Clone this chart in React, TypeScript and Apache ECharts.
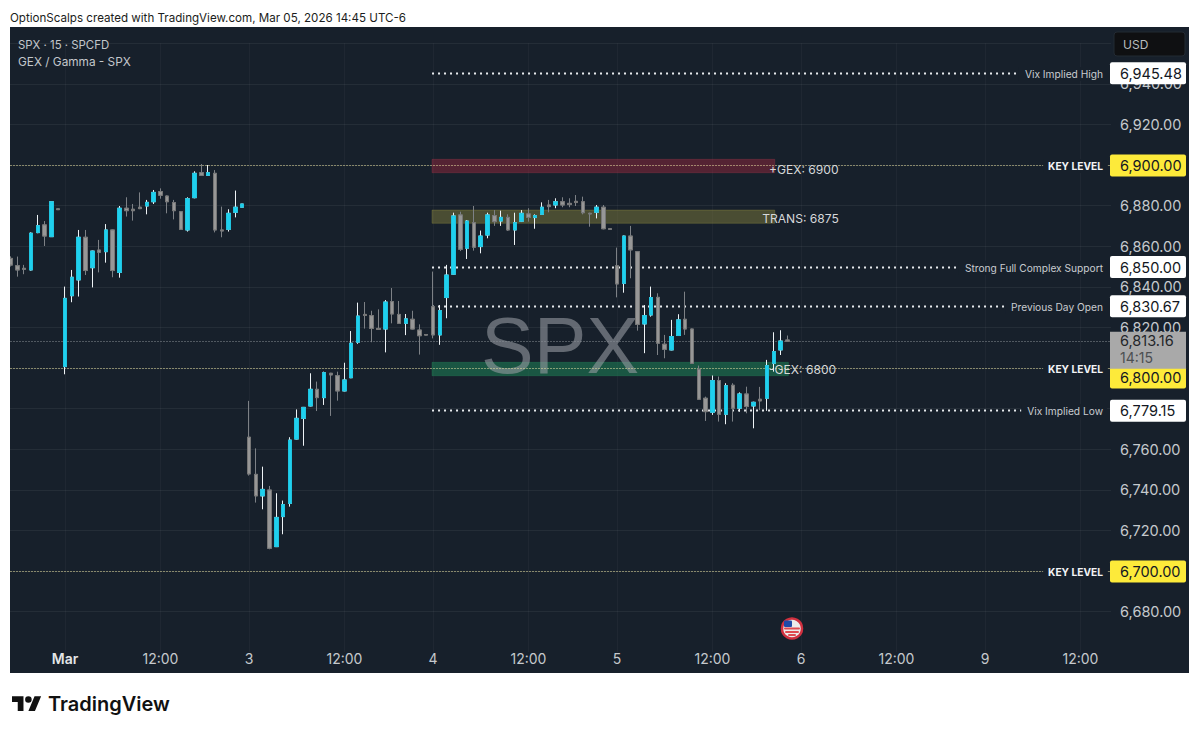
import React, { useEffect, useRef } from "react";
import * as echarts from "echarts";

// [open, close, low, high]
const priorSession: number[][] = [
  [6854, 6850.7, 6850, 6855], [6850.4, 6848.3, 6845, 6854.9], [6849.1, 6848.6, 6846.2, 6850.8], [6848.3, 6866.4, 6848, 6866.8],
  [6866.7, 6870.1, 6866.4, 6875.4], [6870.5, 6865, 6860.1, 6872.4], [6864.7, 6881.9, 6864.7, 6881.9], [6878.4, 6878, 6877.9, 6878.5],
];
const mar2: number[][] = [
  [6800.7, 6834.3, 6796.9, 6840.1], [6835.6, 6844.7, 6832.4, 6848.3], [6843.4, 6864.4, 6835.2, 6868], [6864.4, 6848, 6845.8, 6868],
  [6849.4, 6857.6, 6839.7, 6857.8], [6858.1, 6857, 6847.1, 6863.1], [6857.3, 6868, 6851.9, 6870.9], [6868, 6848, 6844.7, 6868.2],
  [6847.1, 6878.7, 6844.5, 6879.8], [6878.7, 6877.5, 6874.6, 6884.1], [6878.2, 6877.5, 6872.6, 6880.8], [6879.2, 6878.5, 6878.3, 6886.5],
  [6879.8, 6881.6, 6875.7, 6882.8], [6881.9, 6886.5, 6880.8, 6887.7], [6886.9, 6885.1, 6883.4, 6888.5], [6884.7, 6881.9, 6876.2, 6885],
  [6881.5, 6877.5, 6873.2, 6882.8], [6877, 6868.3, 6868, 6877.3], [6868, 6883.4, 6867.2, 6884.1], [6883.9, 6895.9, 6883.6, 6896.9],
  [6896.2, 6894.9, 6894.6, 6900.5], [6894.9, 6896.2, 6894.8, 6900], [6895.9, 6868, 6866.8, 6897.5], [6868, 6867.5, 6864.4, 6879.5],
  [6868.3, 6876.2, 6867.2, 6878.2], [6876.7, 6879.2, 6874.2, 6887.4], [6879.2, 6880.8, 6879.2, 6880.8],
];
const mar3: number[][] = [
  [6765.9, 6747.8, 6747, 6783.8], [6747.6, 6737, 6733.7, 6760.4], [6737, 6740.2, 6730.4, 6751.4], [6739.9, 6711.2, 6710.7, 6741.9],
  [6712, 6726.4, 6711.8, 6738.3], [6726.8, 6732.7, 6718.1, 6734.7], [6733.3, 6764.5, 6731.7, 6765.9], [6765, 6775.2, 6764.8, 6779.6],
  [6775.2, 6780.6, 6761.7, 6780.8], [6781.3, 6789.5, 6781.1, 6797.4], [6789.5, 6785.4, 6778.8, 6793.3], [6785.4, 6797.7, 6781.8, 6798.2],
  [6797.4, 6796.6, 6776.4, 6797.6], [6796.2, 6788.7, 6783.9, 6798.2], [6788.7, 6794.1, 6788.5, 6802.6], [6795.2, 6812.2, 6795, 6818.2],
  [6812.7, 6825.6, 6811.9, 6832.2], [6826.4, 6825.9, 6819.4, 6832.5], [6825.8, 6819.5, 6812.7, 6828.2], [6819.5, 6819, 6818.9, 6828.9],
  [6819.2, 6832.5, 6807.7, 6833.5], [6832.7, 6826.6, 6822, 6839.4], [6826.4, 6822, 6821.8, 6833], [6822, 6824.2, 6816.2, 6826.6],
  [6824, 6819.2, 6819, 6828.2], [6818.7, 6815.9, 6806.6, 6821.5], [6816.5, 6816.2, 6816.1, 6816.6],
];
const mar4: number[][] = [
  [6830.2, 6816.3, 6814.6, 6847.5], [6816.3, 6828.3, 6811.4, 6831], [6834.7, 6845.8, 6824.5, 6850.8], [6846.2, 6874.9, 6846, 6876.5],
  [6875.4, 6858.5, 6857.6, 6877], [6859, 6872.4, 6853.7, 6872.9], [6871.6, 6859.5, 6857.8, 6879.8], [6859.8, 6865, 6856.5, 6867.7],
  [6865.5, 6875.4, 6863.9, 6876.5], [6875.1, 6872.1, 6870, 6877.8], [6872.4, 6874.2, 6870, 6877.5], [6874.2, 6868, 6867.5, 6875.7],
  [6868, 6871.6, 6860.6, 6876.5], [6872.3, 6876.2, 6871.9, 6877.8], [6875.9, 6874.2, 6872.1, 6878.7], [6874.1, 6875.1, 6868.6, 6875.7],
  [6875.7, 6879.2, 6875.4, 6881.6], [6880.3, 6879.5, 6876.7, 6882.8], [6880.3, 6881.9, 6878.7, 6883.6], [6881.9, 6880.3, 6879.2, 6884.1],
  [6881.1, 6880.5, 6879.2, 6883.6], [6882.1, 6881.5, 6879.8, 6885.2], [6881.9, 6876.5, 6875.7, 6884.4], [6876.2, 6875.9, 6869.6, 6876.5],
  [6876.7, 6879.2, 6873.7, 6880.3], [6879.2, 6868.6, 6868.3, 6880.3], [6868.6, 6868.3, 6868.2, 6868.7],
];
const mar5: number[][] = [
  [6850.4, 6841.4, 6834.8, 6859.3], [6841.7, 6865, 6837.1, 6865.2], [6865, 6858.2, 6844.2, 6870], [6857.3, 6821.5, 6818.4, 6857.5],
  [6821.7, 6825.8, 6807.3, 6831], [6826.1, 6834.7, 6825.3, 6840.1], [6834.8, 6812.2, 6806.4, 6836.8], [6811.7, 6809.2, 6804.8, 6816.3],
  [6808.9, 6815.5, 6808.7, 6823.7], [6816, 6823.7, 6815.8, 6826.5], [6824, 6819.2, 6816.3, 6837.6], [6819.2, 6802.3, 6802.1, 6819.4],
  [6799.4, 6784.6, 6784.3, 6801.2], [6785.1, 6778.5, 6773.9, 6785.9], [6778.2, 6793.8, 6776.9, 6796.3], [6793.8, 6777.2, 6773.6, 6795.8],
  [6777.2, 6791.3, 6772.3, 6792.5], [6791.5, 6780.2, 6773.6, 6792.5], [6780.2, 6787.2, 6778.5, 6788], [6787.2, 6781, 6777.7, 6790.8],
  [6781.3, 6783.1, 6770.3, 6783.4], [6784.6, 6783.8, 6779.2, 6790.7], [6785.1, 6801.2, 6778.9, 6804], [6802.3, 6808.1, 6798.2, 6817.6],
  [6808.9, 6813.3, 6806.4, 6818.6], [6813.8, 6813.16, 6813, 6816],
];
const candles = [...priorSession, ...mar2, ...mar3, ...mar4, ...mar5];

const barCount = 162;
const categories = Array.from({ length: barCount }, (_, i) => `b${i}`);
// category index -> time-axis label
const timeTickIndexes = [8, 22, 35, 49, 62, 76, 89, 103, 116, 130, 143, 157];
const timeTickLabels = ["Mar", "12:00", "3", "12:00", "4", "12:00", "5", "12:00", "6", "12:00", "9", "12:00"];

const zoneLows = [6896.2, 6871.3, 6796.2];
const zoneHighs = [6902.8, 6877.8, 6802.8];
const zoneEnds = [112, 112, 114];
const zoneFills = ["rgba(150,40,60,0.48)", "rgba(125,122,60,0.5)", "rgba(30,125,85,0.58)"];
const zoneEdges = ["rgba(170,60,80,0.3)", "rgba(160,155,70,0.3)", "rgba(40,150,100,0.3)"];
const zoneNames = ["+GEX: 6900", "TRANS: 6875", "-GEX: 6800"];
const zoneNameBars = [111, 110, 111];
const zoneNamePrices = [6898, 6873.6, 6799.3];

const dottedValues = [6945.48, 6850, 6830.67, 6779.15];
const dottedNames = ["Vix Implied High", "Strong Full Complex Support", "Previous Day Open", "Vix Implied Low"];
const keyLevels = [6900, 6800, 6700];
const lastPrice = 6813.16;
const lastTime = "14:15";

const fontUI = "Inter, 'Noto Sans', sans-serif";
const fmt = (v: number) => v.toLocaleString("en-US", { minimumFractionDigits: 2, maximumFractionDigits: 2 });
const crisp = (y: number) => Math.round(y) + 0.5;

export default function App() {
  const ref = useRef<HTMLDivElement>(null);
  useEffect(() => {
    document.body.style.margin = "0";
    if (!ref.current) return;
    const chart = echarts.init(ref.current, undefined, { renderer: "svg" });
    if (!(echarts.graphic as any).__tvLogo) {
      echarts.graphic.registerShape(
        "tvLogo",
        echarts.graphic.extendPath("M14 22H7V11H0V4h14v18ZM28 22h-8l7.5-18h8L28 22ZM24 8a4 4 0 1 1-8 0 4 4 0 0 1 8 0Z", {}) as any
      );
      (echarts.graphic as any).__tvLogo = true;
    }

    const zoneSeries = {
      type: "custom",
      name: "Zones",
      z: 1,
      silent: true,
      data: zoneLows.map((l) => [62, l]),
      encode: { x: 0, y: 1 },
      renderItem: (p: any, api: any) => {
        const i = p.dataIndex;
        const a = api.coord([62, zoneHighs[i]]);
        const b = api.coord([zoneEnds[i], zoneLows[i]]);
        return {
          type: "rect",
          shape: { x: a[0] - 1, y: a[1], width: b[0] - a[0] + 2, height: b[1] - a[1] },
          style: { fill: zoneFills[i], stroke: zoneEdges[i], lineWidth: 1 },
        };
      },
    };

    const keySeries = {
      type: "custom",
      name: "Key levels",
      z: 2,
      silent: true,
      data: keyLevels.map((v) => [0, v]),
      encode: { x: 0, y: 1 },
      renderItem: (p: any, api: any) => {
        const v = keyLevels[p.dataIndex];
        const a = api.coord([0, v]);
        const b = api.coord([barCount - 1, v]);
        const y = crisp(a[1]);
        return {
          type: "group",
          children: [
            { type: "line", shape: { x1: a[0], y1: y, x2: b[0] + 3, y2: y }, style: { stroke: "#ece5a2", lineWidth: 1, lineDash: [1, 2] } },
            { type: "text", style: { text: "KEY LEVEL", x: 1107, y: y + 0.5, fill: "#f2f3f5", font: `700 10.2px ${fontUI}`, align: "right", verticalAlign: "middle", backgroundColor: "#17202b", padding: [2, 4, 2, 5] } },
          ],
        };
      },
    };

    const dottedSeries = {
      type: "custom",
      name: "Levels",
      z: 2,
      silent: true,
      data: dottedValues.map((v) => [62, v]),
      encode: { x: 0, y: 1 },
      renderItem: (p: any, api: any) => {
        const v = dottedValues[p.dataIndex];
        const a = api.coord([62, v]);
        const b = api.coord([barCount - 1, v]);
        const y = crisp(a[1]);
        return {
          type: "group",
          children: [
            { type: "line", shape: { x1: a[0] - 1, y1: y, x2: b[0] - 10, y2: y }, style: { stroke: "#e8ebee", lineWidth: 2, lineDash: [2, 4] } },
            { type: "text", style: { text: dottedNames[p.dataIndex], x: 1107, y: y + 0.5, fill: "#c9ccd0", font: `400 10.2px ${fontUI}`, align: "right", verticalAlign: "middle", backgroundColor: "#17202b", padding: [2, 4, 2, 6] } },
          ],
        };
      },
    };

    const lastSeries = {
      type: "custom",
      name: "Last price",
      z: 2,
      silent: true,
      data: [[0, lastPrice]],
      encode: { x: 0, y: 1 },
      renderItem: (_: any, api: any) => {
        const a = api.coord([0, lastPrice]);
        const b = api.coord([barCount - 1, lastPrice]);
        const y = crisp(a[1]);
        return { type: "line", shape: { x1: a[0], y1: y, x2: b[0] + 3, y2: y }, style: { stroke: "#8a9096", lineWidth: 1, lineDash: [1, 2] } };
      },
    };

    const zoneNameSeries = {
      type: "custom",
      name: "Zone names",
      z: 6,
      silent: true,
      data: zoneNames.map((_, i) => [zoneNameBars[i], zoneNamePrices[i]]),
      encode: { x: 0, y: 1 },
      renderItem: (p: any, api: any) => {
        const i = p.dataIndex;
        const a = api.coord([zoneNameBars[i], zoneNamePrices[i]]);
        return { type: "text", style: { text: zoneNames[i], x: a[0] + 2, y: a[1], fill: "#d6d8da", font: `400 12.1px ${fontUI}`, align: "left", verticalAlign: "middle" } };
      },
    };

    const tagRow = (y: number, h: number, bg: string, label: string, fg: string) => [
      { type: "rect", shape: { x: 1110, y: y - h / 2, width: 76, height: h, r: 2 }, style: { fill: bg } },
      { type: "text", style: { text: label, x: 1120, y, fill: fg, font: `400 14.5px ${fontUI}`, align: "left", verticalAlign: "middle" } },
    ];

    const tagValues = [...dottedValues, ...keyLevels];
    const tagSeries = {
      type: "custom",
      name: "Price tags",
      z: 7,
      silent: true,
      data: tagValues.map((v) => [barCount - 1, v]),
      encode: { x: 0, y: 1 },
      renderItem: (p: any, api: any) => {
        const v = tagValues[p.dataIndex];
        const y = api.coord([0, v])[1] + 0.5;
        const isKey = keyLevels.includes(v);
        // the 6,800 tag is pushed down by the last-price tag above it
        const shifted = v === 6800 ? y + 9 : y;
        return { type: "group", children: tagRow(shifted, 22, isKey ? "#fdea3a" : "#ffffff", fmt(v), "#131722") };
      },
    };

    const lastTagSeries = {
      type: "custom",
      name: "Last tag",
      z: 8,
      silent: true,
      data: [[barCount - 1, lastPrice]],
      encode: { x: 0, y: 1 },
      renderItem: (_: any, api: any) => {
        const y = api.coord([0, lastPrice])[1];
        return {
          type: "group",
          children: [
            { type: "rect", shape: { x: 1110, y: y - 9.5, width: 76, height: 37 }, style: { fill: "#a9a9a9" } },
            { type: "text", style: { text: fmt(lastPrice), x: 1120, y: y - 0.5, fill: "#232629", font: `400 14.5px ${fontUI}`, align: "left", verticalAlign: "middle" } },
            { type: "text", style: { text: lastTime, x: 1120, y: y + 16.5, fill: "#4c4f52", font: `400 14px ${fontUI}`, align: "left", verticalAlign: "middle" } },
          ],
        };
      },
    };

    const bodies = candles.map(([o, c]) => [o, c, Math.min(o, c), Math.max(o, c)]);

    const usX = 792;
    const usY = 628.5;
    const flagStripes = [
      { y: -8, w: 8, fill: "#1f4aa8", x: -8 },
      { y: -1, w: 16, fill: "#e04a50", x: -8 },
      { y: 2.5, w: 14, fill: "#e04a50", x: -7 },
      { y: 5.5, w: 8, fill: "#e04a50", x: -4 },
    ];

    chart.setOption({
      animation: false,
      backgroundColor: "transparent",
      grid: { left: 7.1, top: 43.2, width: 1104, height: 609, containLabel: false },
      xAxis: {
        type: "category",
        data: categories,
        boundaryGap: true,
        axisLine: { show: false },
        axisTick: { show: false },
        axisLabel: {
          show: true,
          margin: -1,
          interval: (i: number) => timeTickIndexes.includes(i),
          hideOverlap: false,
          formatter: (_: string, i: number) => {
            const t = timeTickLabels[timeTickIndexes.indexOf(i)];
            return t === "Mar" ? `{b|${t}}` : (t ?? "");
          },
          lineHeight: 14,
          color: "#c5c9cd",
          fontFamily: fontUI,
          fontSize: 14,
          rich: { b: { fontWeight: 600, color: "#e4e6e8", fontSize: 14, fontFamily: fontUI } },
        },
        splitLine: {
          show: true,
          alignWithLabel: true,
          interval: (i: number) => timeTickIndexes.includes(i),
          lineStyle: { color: "rgba(255,255,255,0.035)", width: 1 },
        },
      },
      yAxis: {
        type: "value",
        position: "right",
        min: 6660,
        max: 6960,
        interval: 20,
        axisLine: { show: false },
        axisTick: { show: false },
        axisLabel: {
          margin: 9,
          showMinLabel: false,
          showMaxLabel: false,
          color: "#c5c9cd",
          fontFamily: fontUI,
          fontSize: 14.5,
          formatter: (v: number) => fmt(v),
        },
        splitLine: { show: true, showMinLine: false, lineStyle: { color: "rgba(255,255,255,0.06)", width: 1 } },
      },
      series: [
        zoneSeries,
        lastSeries,
        keySeries,
        dottedSeries,
        {
          type: "candlestick",
          name: "SPX",
          z: 3,
          clip: true,
          barWidth: 4,
          data: candles,
          itemStyle: { color: "#1fd0ee", color0: "#979797", borderColor: "#eef3f6", borderColor0: "#7d8186", borderWidth: 1 },
        },
        {
          type: "candlestick",
          name: "SPX bodies",
          z: 4,
          clip: true,
          barWidth: 4,
          data: bodies,
          itemStyle: { color: "#1fd0ee", color0: "#979797", borderColor: "#1fc4e0", borderColor0: "#767676", borderWidth: 1 },
        },
        zoneNameSeries,
        tagSeries,
        lastTagSeries,
      ],
      graphic: [
        { type: "rect", z: 100, shape: { x: 0, y: 0, width: 10, height: 734 }, style: { fill: "#ffffff" } },
        { type: "text", z: 101, x: 10, y: 18, style: { text: "OptionScalps created with TradingView.com, Mar 05, 2026 14:45 UTC-6", fill: "#1b1d20", font: `400 11.6px ${fontUI}`, verticalAlign: "middle" } },
        { type: "text", z: 101, x: 18, y: 45, style: { text: "SPX · 15 · SPCFD", fill: "#c3c7cb", font: `400 11.4px ${fontUI}`, verticalAlign: "middle" } },
        { type: "text", z: 101, x: 18, y: 62, style: { text: "GEX / Gamma - SPX", fill: "#c3c7cb", font: `400 11.8px ${fontUI}`, verticalAlign: "middle" } },
        { type: "text", z: 2, x: 481, y: 345, silent: true, style: { text: "SPX", fill: "rgba(150,155,162,0.6)", font: "400 79px 'Liberation Sans', Arial, sans-serif", verticalAlign: "middle" } },
        { type: "rect", z: 101, shape: { x: 1114, y: 32, width: 71, height: 24, r: 3 }, style: { fill: "#0f1012", stroke: "#232a33", lineWidth: 1 } },
        { type: "text", z: 102, x: 1123, y: 44, style: { text: "USD", fill: "#b9bcbf", font: `400 12px ${fontUI}`, verticalAlign: "middle" } },
        { type: "tvLogo", z: 101, x: 12, y: 693, scaleX: 0.82, scaleY: 0.82, style: { fill: "#111111" } },
        { type: "text", z: 101, x: 48, y: 704, style: { text: "TradingView", fill: "#111111", font: `600 20px ${fontUI}`, verticalAlign: "middle" } },
        { type: "circle", z: 101, shape: { cx: usX, cy: usY, r: 10 }, style: { fill: "#ecebea", stroke: "#d0303f", lineWidth: 2.5 } },
        ...flagStripes.map((s) => ({
          type: "rect",
          z: 102,
          shape: { x: usX + s.x, y: usY + s.y, width: s.w, height: s.fill === "#1f4aa8" ? 6.5 : 2, r: 1 },
          style: { fill: s.fill },
        })),
      ],
    } as any);
    return () => chart.dispose();
  }, []);

  return (
    <div style={{ position: "relative", width: 1200, height: 734, background: "#ffffff", overflow: "hidden" }}>
      <div style={{ position: "absolute", left: 10, top: 27, width: 1179, height: 646, background: "#17202b" }} />
      <div ref={ref} style={{ position: "absolute", left: 0, top: 0, width: 1200, height: 734 }} />
    </div>
  );
}
